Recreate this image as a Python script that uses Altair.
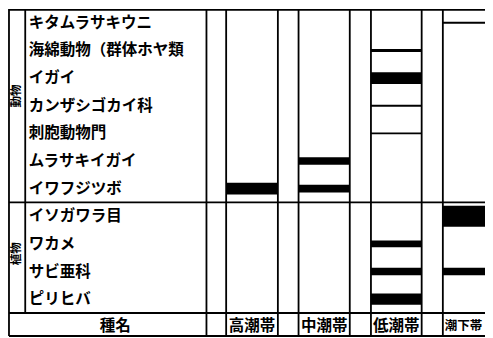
import altair as alt
import pandas as pd

# ---------------- data ----------------
groups = ["動物", "植物"]
species = [
    "キタムラサキウニ",
    "海綿動物（群体ホヤ類",
    "イガイ",
    "カンザシゴカイ科",
    "刺胞動物門",
    "ムラサキイガイ",
    "イワフジツボ",
    "イソガワラ目",
    "ワカメ",
    "サビ亜科",
    "ピリヒバ",
]
species_group = ["動物"] * 7 + ["植物"] * 4
zones = ["高潮帯", "中潮帯", "低潮帯", "潮下帯"]
name_header = "種名"

cell_species = ["イワフジツボ", "ムラサキイガイ", "イワフジツボ",
                "海綿動物（群体ホヤ類", "イガイ", "カンザシゴカイ科", "刺胞動物門",
                "ワカメ", "サビ亜科", "ピリヒバ",
                "キタムラサキウニ", "イソガワラ目", "サビ亜科"]
cell_zone = ["高潮帯", "中潮帯", "中潮帯",
             "低潮帯", "低潮帯", "低潮帯", "低潮帯",
             "低潮帯", "低潮帯", "低潮帯",
             "潮下帯", "潮下帯", "潮下帯"]
cell_cover = [55, 34, 36,
              14, 55, 9, 9,
              32, 34, 52,
              9, 98, 34]

# ---------------- layout (table geometry, not data) ----------------
W, H, FH = 477, 304, 23          # table width, species-rows height, footer height
X_DOMAIN = [3, 487.3]            # horizontal layout units
EDGES = [4, 20.5, 204.5, 224.5, 277, 298, 350, 371.5, 423, 444.5, 497]
GROUP_EDGE = 20.5
ZONE_SPAN = {"高潮帯": (224.5, 277), "中潮帯": (298, 350),
             "低潮帯": (371.5, 423), "潮下帯": (444.5, 497)}
LABEL_X = 24
HEADER_X = 112
GROUP_X = 12.3
FONT = "Noto Sans CJK JP"

xs = alt.Scale(domain=X_DOMAIN, nice=False, zero=False)
ys = alt.Scale(domain=species, paddingInner=0, paddingOuter=0)

# bars
cells = pd.DataFrame({"species": cell_species, "zone": cell_zone, "cover": cell_cover})
cells["x0"] = [ZONE_SPAN[z][0] for z in cells["zone"]]
cells["x1"] = [ZONE_SPAN[z][1] for z in cells["zone"]]
bars = alt.Chart(cells).mark_bar(color="black").encode(
    x=alt.X("x0:Q", scale=xs, axis=None),
    x2="x1:Q",
    y=alt.Y("species:N", scale=ys, axis=None),
    size=alt.Size("cover:Q", scale=alt.Scale(domain=[0, 100], range=[0, 21.6], zero=True), legend=None),
)

# vertical grid lines
vfull = pd.DataFrame({"x": [e for e in EDGES if e != GROUP_EDGE]})
vlines = alt.Chart(vfull).mark_rule(color="black", strokeWidth=1.8).encode(
    x=alt.X("x:Q", scale=xs, axis=None), y=alt.value(0), y2=alt.value(H + FH))
vgroup = alt.Chart(pd.DataFrame({"x": [GROUP_EDGE]})).mark_rule(color="black", strokeWidth=1.8).encode(
    x=alt.X("x:Q", scale=xs, axis=None), y=alt.value(0), y2=alt.value(H))

# horizontal lines
hpix = pd.DataFrame({"x0": [EDGES[0]] * 3, "x1": [EDGES[-1]] * 3, "py": [0.9, H, H + FH]})
hlines = alt.Chart(hpix).mark_rule(color="black", strokeWidth=1.8).encode(
    x=alt.X("x0:Q", scale=xs, axis=None), x2="x1:Q", y=alt.Y("py:Q", scale=None))
hdiv = alt.Chart(pd.DataFrame({"x0": [EDGES[0]], "x1": [EDGES[-1]], "species": [species[7]]})).mark_rule(
    color="black", strokeWidth=1.8).encode(
    x=alt.X("x0:Q", scale=xs, axis=None), x2="x1:Q",
    y=alt.Y("species:N", scale=ys, axis=None, bandPosition=0))

# species labels
lab = pd.DataFrame({"species": species, "lx": [LABEL_X] * len(species)})
labels = alt.Chart(lab).mark_text(align="left", baseline="middle", font=FONT, fontSize=15.5,
                                  fontWeight="bold", color="black").encode(
    x=alt.X("lx:Q", scale=xs, axis=None),
    y=alt.Y("species:N", scale=ys, axis=None),
    text="species:N")

# group labels (rotated)
g1 = alt.Chart(pd.DataFrame({"g": [groups[0]], "species": [species[3]], "gx": [GROUP_X]})).mark_text(
    angle=270, align="center", baseline="middle", font=FONT, fontSize=11.5, fontWeight="bold", color="black").encode(
    x=alt.X("gx:Q", scale=xs, axis=None), y=alt.Y("species:N", scale=ys, axis=None, bandPosition=0.15), text="g:N")
g2 = alt.Chart(pd.DataFrame({"g": [groups[1]], "species": [species[8]], "gx": [GROUP_X]})).mark_text(
    angle=270, align="center", baseline="middle", font=FONT, fontSize=11.5, fontWeight="bold", color="black").encode(
    x=alt.X("gx:Q", scale=xs, axis=None), y=alt.Y("species:N", scale=ys, axis=None, bandPosition=0.86), text="g:N")

# footer labels
foot = pd.DataFrame({
    "t": [name_header] + zones[:3],
    "fx": [HEADER_X] + [(ZONE_SPAN[z][0] + ZONE_SPAN[z][1]) / 2 for z in zones[:3]],
})
footer = alt.Chart(foot).mark_text(align="center", baseline="middle", font=FONT, fontSize=15.5,
                                   fontWeight="bold", color="black").encode(
    x=alt.X("fx:Q", scale=xs, axis=None), y=alt.value(H + FH / 2 + 1), text="t:N")
# last zone label sits in the column that runs off the right edge: left-aligned, a little smaller
foot_last = pd.DataFrame({"t": [zones[3]], "fx": [ZONE_SPAN[zones[3]][0] + 2]})
footer_last = alt.Chart(foot_last).mark_text(align="left", baseline="middle", font=FONT, fontSize=12.5,
                                             fontWeight="bold", color="black").encode(
    x=alt.X("fx:Q", scale=xs, axis=None), y=alt.value(H + FH / 2 + 1), text="t:N")

chart = alt.layer(bars, vlines, vgroup, hlines, hdiv, labels, g1, g2, footer, footer_last).properties(
    width=W, height=H,
    padding={"left": 0, "top": 1, "right": 0, "bottom": FH + 2},
    autosize=alt.AutoSizeParams(type="none"),
    background="white",
).configure_view(stroke=None)

chart.save("out.html", embed_options={"renderer": "svg", "actions": False})
